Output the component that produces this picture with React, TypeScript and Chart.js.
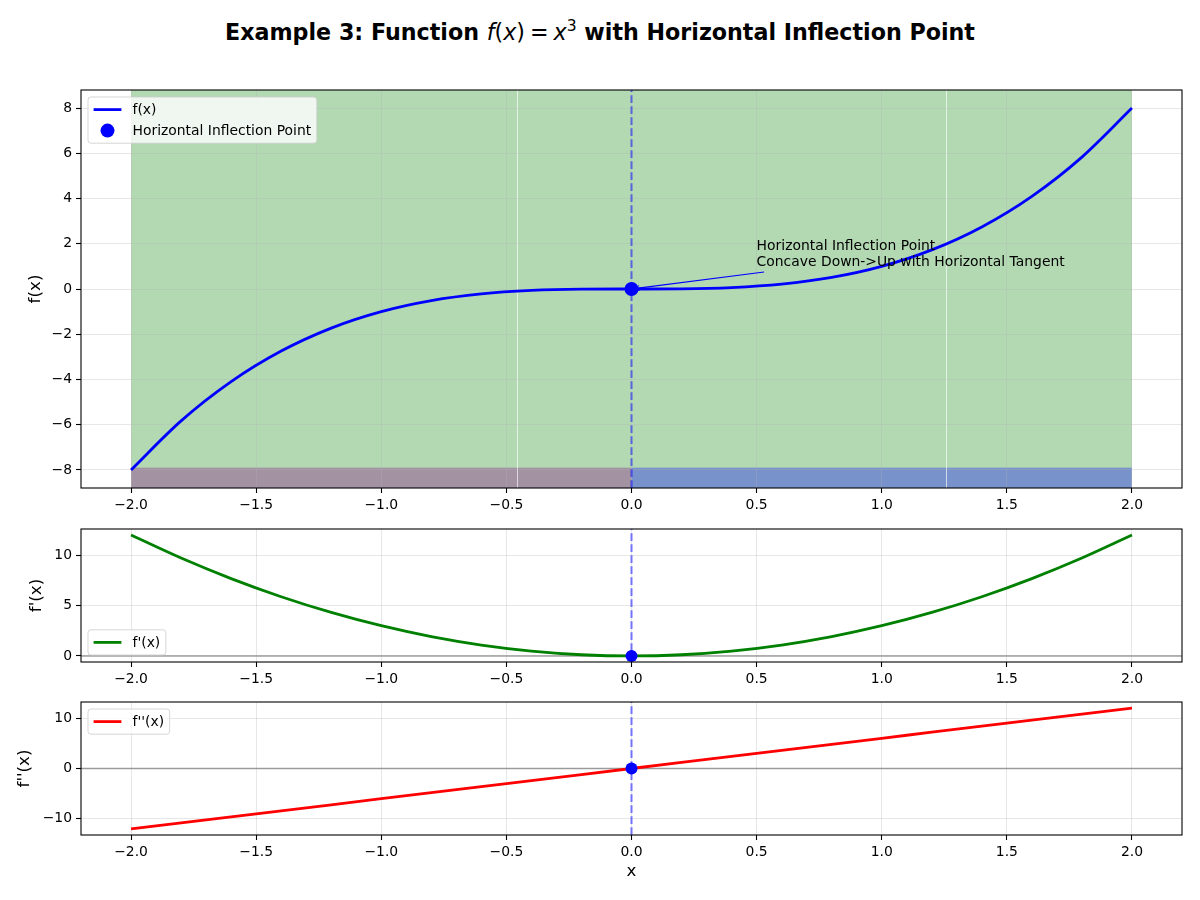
import React, { useEffect, useRef } from 'react';
import { Chart, registerables } from 'chart.js';

Chart.register(...registerables);

// ---------------- data ----------------
const xValues = [-2, -1.8, -1.6, -1.4, -1.2, -1, -0.8, -0.6, -0.4, -0.2, 0, 0.2, 0.4, 0.6, 0.8, 1, 1.2, 1.4, 1.6, 1.8, 2];
const fValues = [-8, -5.832, -4.096, -2.744, -1.728, -1, -0.512, -0.216, -0.064, -0.008, 0, 0.008, 0.064, 0.216, 0.512, 1, 1.728, 2.744, 4.096, 5.832, 8];
const fPrimeValues = [12, 9.72, 7.68, 5.88, 4.32, 3, 1.92, 1.08, 0.48, 0.12, 0, 0.12, 0.48, 1.08, 1.92, 3, 4.32, 5.88, 7.68, 9.72, 12];
const fDoublePrimeValues = [-12, -10.8, -9.6, -8.4, -7.2, -6, -4.8, -3.6, -2.4, -1.2, 0, 1.2, 2.4, 3.6, 4.8, 6, 7.2, 8.4, 9.6, 10.8, 12];

const inflectionX = [0];
const inflectionF = [0];
const inflectionFPrime = [0];
const inflectionFDoublePrime = [0];

const xRange = [-2.2, 2.2];
const fRange = [-8.8, 8.8];
const fPrimeRange = [-0.6, 12.6];
const fDoublePrimeRange = [-13.2, 13.2];
const xTickStep = 0.5;
const fTickStep = 2;
const fPrimeTickStep = 5;
const fDoublePrimeTickStep = 10;

const monotoneSpan = [-2, 2];
const spanSeams = [-0.456, 1.257];
const concavityStarts = [-2, 0];
const concavityEnds = [0, 2];
const concavityStripTop = -7.9;

const annotationLines = ['Horizontal Inflection Point', 'Concave Down->Up with Horizontal Tangent'];
const annotationAt = [0.5, 1.0];
const arrowFrom = [0.53, 0.75];
const arrowTo = [0, 0];

// ---------------- styles ----------------
const FONT = 'DejaVu Sans';
const tickFont = { family: FONT, size: 13.9 };
const labelFont = { family: FONT, size: 16.7 };
const gridColor = 'rgba(176,176,176,0.3)';
const concavityColors = ['rgba(128,0,128,0.33)', 'rgba(0,0,255,0.33)'];

const fmtX = (v: any) => {
  const n = Number(v);
  const s = Math.abs(n).toFixed(1);
  return n < -1e-9 ? '\u2212' + s : s;
};
const fmtY = (v: any) => {
  const n = Math.round(Number(v));
  return n < 0 ? '\u2212' + Math.abs(n) : String(n);
};

const pts = (xs: number[], ys: number[]) => xs.map((x, i) => ({ x, y: ys[i] }));

function framePlugin(legendCorner: 'ul' | 'll') {
  return {
    id: 'frameLegend',
    afterDraw(chart: any) {
      const { ctx, chartArea: a } = chart;
      ctx.save();
      ctx.strokeStyle = '#000';
      ctx.lineWidth = 1.1;
      ctx.strokeRect(a.left, a.top, a.right - a.left, a.bottom - a.top);

      const items = chart.data.datasets.filter((d: any) => d.label);
      const fs = 13.9;
      ctx.font = `${fs}px "${FONT}"`;
      const pad = 5.6, handle = 27.8, gap = 11.1, rowH = 14, spacing = 7, axpad = 7;
      const textW = Math.max(...items.map((d: any) => ctx.measureText(d.label).width));
      const w = pad + handle + gap + textW + pad;
      const h = pad * 2 + rowH * items.length + spacing * (items.length - 1);
      const x = a.left + axpad;
      const y = legendCorner === 'ul' ? a.top + axpad : a.bottom - axpad - h;
      const r = 3;
      ctx.beginPath();
      ctx.moveTo(x + r, y);
      ctx.lineTo(x + w - r, y);
      ctx.arcTo(x + w, y, x + w, y + r, r);
      ctx.lineTo(x + w, y + h - r);
      ctx.arcTo(x + w, y + h, x + w - r, y + h, r);
      ctx.lineTo(x + r, y + h);
      ctx.arcTo(x, y + h, x, y + h - r, r);
      ctx.lineTo(x, y + r);
      ctx.arcTo(x, y, x + r, y, r);
      ctx.closePath();
      ctx.fillStyle = 'rgba(255,255,255,0.8)';
      ctx.fill();
      ctx.strokeStyle = 'rgba(204,204,204,0.8)';
      ctx.lineWidth = 1;
      ctx.stroke();

      items.forEach((d: any, i: number) => {
        const cy = y + pad + rowH / 2 + i * (rowH + spacing);
        if (d.showLine === false) {
          ctx.beginPath();
          ctx.arc(x + pad + handle / 2, cy, d.pointRadius, 0, Math.PI * 2);
          ctx.fillStyle = d.backgroundColor;
          ctx.fill();
        } else {
          ctx.beginPath();
          ctx.moveTo(x + pad, cy);
          ctx.lineTo(x + pad + handle, cy);
          ctx.strokeStyle = d.borderColor;
          ctx.lineWidth = d.borderWidth;
          ctx.stroke();
        }
        ctx.fillStyle = '#000';
        ctx.textBaseline = 'middle';
        ctx.textAlign = 'left';
        ctx.fillText(d.label, x + pad + handle + gap, cy + 0.5);
      });
      ctx.restore();
    },
  };
}

function refLinesPlugin(withHLine: boolean) {
  return {
    id: 'refLines',
    beforeDatasetsDraw(chart: any) {
      const { ctx, chartArea: a, scales } = chart;
      ctx.save();
      ctx.beginPath();
      ctx.rect(a.left, a.top, a.right - a.left, a.bottom - a.top);
      ctx.clip();
      if (withHLine) {
        const py = scales.y.getPixelForValue(0);
        ctx.beginPath();
        ctx.moveTo(a.left, py);
        ctx.lineTo(a.right, py);
        ctx.strokeStyle = 'rgba(128,128,128,0.75)';
        ctx.lineWidth = 1.5;
        ctx.stroke();
      }
      const px = scales.x.getPixelForValue(inflectionX[0]);
      ctx.beginPath();
      ctx.setLineDash([7.7, 3.3]);
      ctx.moveTo(px, a.bottom);
      ctx.lineTo(px, a.top);
      ctx.strokeStyle = 'rgba(0,0,255,0.5)';
      ctx.lineWidth = 2.1;
      ctx.stroke();
      ctx.restore();
    },
  };
}

const spansPlugin = {
  id: 'spans',
  beforeDraw(chart: any) {
    const { ctx, chartArea: a, scales } = chart;
    const xs = scales.x, ys = scales.y;
    ctx.save();
    ctx.beginPath();
    ctx.rect(a.left, a.top, a.right - a.left, a.bottom - a.top);
    ctx.clip();
    const g0 = xs.getPixelForValue(monotoneSpan[0]);
    const g1 = xs.getPixelForValue(monotoneSpan[1]);
    ctx.fillStyle = 'rgba(0,128,0,0.3)';
    ctx.fillRect(g0, a.top, g1 - g0, a.bottom - a.top);
    const stripY = ys.getPixelForValue(concavityStripTop);
    concavityStarts.forEach((s, i) => {
      const p0 = xs.getPixelForValue(s);
      const p1 = xs.getPixelForValue(concavityEnds[i]);
      ctx.fillStyle = concavityColors[i];
      ctx.fillRect(p0, stripY, p1 - p0, a.bottom - stripY);
    });
    spanSeams.forEach((s) => {
      const p = Math.round(xs.getPixelForValue(s)) + 0.5;
      ctx.beginPath();
      ctx.moveTo(p, a.top);
      ctx.lineTo(p, a.bottom);
      ctx.strokeStyle = 'rgba(255,255,255,0.65)';
      ctx.lineWidth = 1;
      ctx.stroke();
    });
    ctx.restore();
  },
};

const annotationPlugin = {
  id: 'annotation',
  afterDatasetsDraw(chart: any) {
    const { ctx, scales } = chart;
    const xs = scales.x, ys = scales.y;
    ctx.save();
    const x0 = xs.getPixelForValue(arrowFrom[0]);
    const y0 = ys.getPixelForValue(arrowFrom[1]);
    const x1t = xs.getPixelForValue(arrowTo[0]);
    const y1t = ys.getPixelForValue(arrowTo[1]);
    const ang = Math.atan2(y1t - y0, x1t - x0);
    const x1 = x1t - Math.cos(ang) * 2.8;
    const y1 = y1t - Math.sin(ang) * 2.8;
    ctx.strokeStyle = 'blue';
    ctx.lineWidth = 1.1;
    ctx.beginPath();
    ctx.moveTo(x0, y0);
    ctx.lineTo(x1, y1);
    ctx.stroke();
    const hl = 5.6, hw = 0.45;
    ctx.beginPath();
    ctx.moveTo(x1 - Math.cos(ang - hw) * hl, y1 - Math.sin(ang - hw) * hl);
    ctx.lineTo(x1, y1);
    ctx.lineTo(x1 - Math.cos(ang + hw) * hl, y1 - Math.sin(ang + hw) * hl);
    ctx.stroke();

    ctx.font = `13.9px "${FONT}"`;
    ctx.fillStyle = '#000';
    ctx.textAlign = 'left';
    ctx.textBaseline = 'alphabetic';
    const tx = xs.getPixelForValue(annotationAt[0]);
    const ty = ys.getPixelForValue(annotationAt[1]);
    const lh = 13.9 * 1.2;
    annotationLines.forEach((line, i) => {
      ctx.fillText(line, tx, ty - (annotationLines.length - 1 - i) * lh);
    });
    ctx.restore();
  },
};

interface Spec {
  datasets: any[];
  yRange: number[];
  yStep: number;
  yTitle: string;
  yTitlePad: number;
  xTitle?: string;
  xAxisHeight: number;
  padTop: number;
  plugins: any[];
}

function buildChart(canvas: HTMLCanvasElement, spec: Spec) {
  return new Chart(canvas, {
    type: 'line',
    data: { datasets: spec.datasets },
    options: {
      responsive: false,
      animation: false,
      devicePixelRatio: 1,
      layout: { padding: { top: spec.padTop, right: 18, left: 0, bottom: 0 } },
      plugins: { legend: { display: false }, tooltip: { enabled: false } },
      elements: { line: { borderCapStyle: 'butt' } },
      scales: {
        x: {
          type: 'linear',
          min: xRange[0],
          max: xRange[1],
          ticks: {
            stepSize: xTickStep,
            includeBounds: false,
            callback: fmtX,
            font: tickFont,
            color: '#000',
            padding: 4,
            maxRotation: 0,
            autoSkip: false,
          },
          grid: { color: gridColor, lineWidth: 1, tickColor: '#000', tickLength: 5, tickWidth: 1.1 },
          border: { display: false },
          title: spec.xTitle
            ? { display: true, text: spec.xTitle, font: labelFont, color: '#000', padding: { top: 0, bottom: 18 } }
            : { display: false },
          afterFit: (s: any) => {
            s.height = spec.xAxisHeight;
          },
        },
        y: {
          type: 'linear',
          min: spec.yRange[0],
          max: spec.yRange[1],
          ticks: {
            stepSize: spec.yStep,
            includeBounds: false,
            callback: fmtY,
            font: tickFont,
            color: '#000',
            padding: 4,
          },
          grid: { color: gridColor, lineWidth: 1, tickColor: '#000', tickLength: 5, tickWidth: 1.1 },
          border: { display: false },
          title: { display: true, text: spec.yTitle, font: labelFont, color: '#000', padding: { top: spec.yTitlePad, bottom: 0 } },
          afterFit: (s: any) => {
            s.width = 81;
          },
        },
      },
    } as any,
    plugins: spec.plugins,
  });
}

const lineStyle = (color: string) => ({
  borderColor: color,
  backgroundColor: color,
  borderWidth: 2.8,
  pointRadius: 0,
  cubicInterpolationMode: 'monotone' as const,
  fill: false,
  order: 2,
});
const markerStyle = (r: number) => ({
  showLine: false,
  pointRadius: r,
  pointBackgroundColor: 'blue',
  backgroundColor: 'blue',
  borderColor: 'blue',
  pointBorderWidth: 0,
  order: 0,
});

export default function App() {
  const topRef = useRef<HTMLCanvasElement>(null);
  const midRef = useRef<HTMLCanvasElement>(null);
  const botRef = useRef<HTMLCanvasElement>(null);

  useEffect(() => {
    Chart.defaults.font.family = FONT;
    const charts: Chart[] = [];
    if (topRef.current) {
      charts.push(
        buildChart(topRef.current, {
          datasets: [
            { label: 'f(x)', data: pts(xValues, fValues), ...lineStyle('blue') },
            { label: 'Horizontal Inflection Point', data: pts(inflectionX, inflectionF), ...markerStyle(7) },
          ],
          yRange: fRange,
          yStep: fTickStep,
          yTitle: 'f(x)',
          yTitlePad: 26,
          xAxisHeight: 32,
          padTop: 20,
          plugins: [spansPlugin, refLinesPlugin(false), annotationPlugin, framePlugin('ul')],
        })
      );
    }
    if (midRef.current) {
      charts.push(
        buildChart(midRef.current, {
          datasets: [
            { label: "f'(x)", data: pts(xValues, fPrimeValues), ...lineStyle('green') },
            { label: '', data: pts(inflectionX, inflectionFPrime), ...markerStyle(6) },
          ],
          yRange: fPrimeRange,
          yStep: fPrimeTickStep,
          yTitle: "f'(x)",
          yTitlePad: 27,
          xAxisHeight: 33,
          padTop: 19,
          plugins: [refLinesPlugin(true), framePlugin('ll')],
        })
      );
    }
    if (botRef.current) {
      charts.push(
        buildChart(botRef.current, {
          datasets: [
            { label: "f''(x)", data: pts(xValues, fDoublePrimeValues), ...lineStyle('red') },
            { label: '', data: pts(inflectionX, inflectionFDoublePrime), ...markerStyle(6) },
          ],
          yRange: fDoublePrimeRange,
          yStep: fDoublePrimeTickStep,
          yTitle: "f''(x)",
          yTitlePad: 15,
          xTitle: 'x',
          xAxisHeight: 65,
          padTop: 17,
          plugins: [refLinesPlugin(true), framePlugin('ul')],
        })
      );
    }
    return () => charts.forEach((c) => c.destroy());
  }, []);

  const canvasStyle = (top: number, h: number): React.CSSProperties => ({
    position: 'absolute',
    left: 0,
    top,
    width: 1200,
    height: h,
  });

  return (
    <div style={{ position: 'fixed', left: 0, top: 0, width: 1200, height: 900, background: '#fff', overflow: 'hidden' }}>
      <div
        style={{
          position: 'absolute',
          top: 18,
          left: 0,
          width: 1200,
          textAlign: 'center',
          fontFamily: FONT,
          fontSize: 22.2,
          lineHeight: '28px',
          color: '#000',
          whiteSpace: 'nowrap',
        }}
      >
        <span style={{ fontWeight: 'bold' }}>Example 3: Function </span>
        <span style={{ fontWeight: 'normal' }}>
          <i>f</i>(<i>x</i>)<span style={{ margin: '0 5px' }}>=</span><i>x</i>
          <sup style={{ fontSize: '70%', verticalAlign: '0.55em', lineHeight: 0 }}>3</sup>
        </span>
        <span style={{ fontWeight: 'bold' }}> with Horizontal Inflection Point</span>
      </div>
      <canvas ref={topRef} width={1200} height={450} style={canvasStyle(70, 450)} />
      <canvas ref={midRef} width={1200} height={185} style={canvasStyle(510, 185)} />
      <canvas ref={botRef} width={1200} height={215} style={canvasStyle(685, 215)} />
    </div>
  );
}
